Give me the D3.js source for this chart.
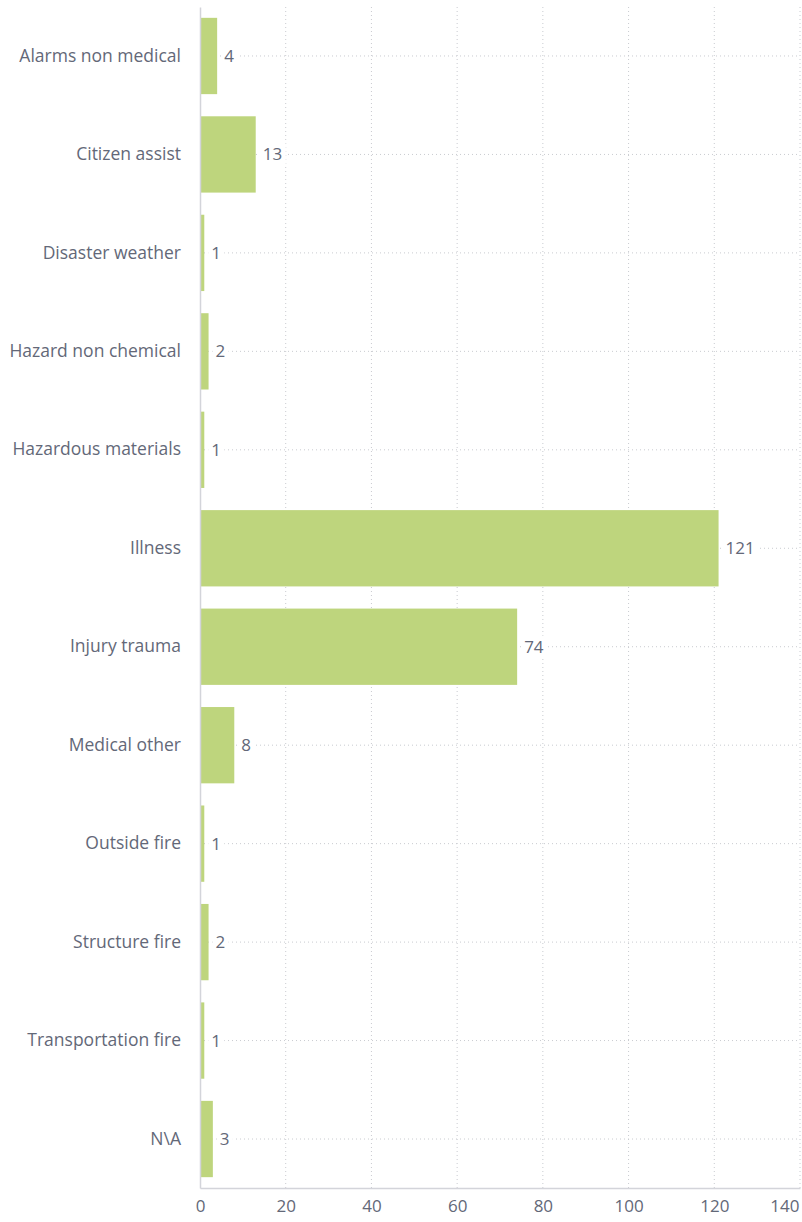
<!DOCTYPE html>
<html><head><meta charset="utf-8">
<script src="https://cdn.jsdelivr.net/npm/d3@7"></script>
<style>body{margin:0;background:#fff;}svg{display:block;font-family:"Open Sans",sans-serif;}</style>
</head><body>
<script>
const categories = ["Alarms non medical","Citizen assist","Disaster weather","Hazard non chemical","Hazardous materials","Illness","Injury trauma","Medical other","Outside fire","Structure fire","Transportation fire","N\\A"];
const values = [4,13,1,2,1,121,74,8,1,2,1,3];
const xTicks = [0,20,40,60,80,100,120,140];

const W = 802, H = 1222;
const svg = d3.select("body").append("svg").attr("width", W).attr("height", H);
const x = d3.scaleLinear().domain([0,140]).range([200,800]);
const y = d3.scaleBand().domain(categories).range([7,1188]).paddingInner(0.225).paddingOuter(0.11);
const textColor = "#636878";
const gridColor = "#c9cbd0";
const fs = 17;

// vertical grid
svg.append("g").selectAll("line").data(xTicks.slice(1)).join("line")
  .attr("x1", d=>x(d)).attr("x2", d=>x(d)).attr("y1", 7).attr("y2", 1188)
  .attr("stroke", gridColor).attr("stroke-width",1).attr("stroke-dasharray","1,3");

// horizontal dotted lines at category centres
svg.append("g").selectAll("line").data(categories).join("line")
  .attr("x1", 200).attr("x2", 800)
  .attr("y1", d=>y(d)+y.bandwidth()/2).attr("y2", d=>y(d)+y.bandwidth()/2)
  .attr("stroke", gridColor).attr("stroke-width",1).attr("stroke-dasharray","1,3");

// bars
svg.append("g").selectAll("rect").data(categories).join("rect")
  .attr("x", x(0)).attr("y", d=>y(d))
  .attr("width", (d,i)=>x(values[i])-x(0)).attr("height", y.bandwidth())
  .attr("fill", "#bed57d");

// value labels with white background
const vl = svg.append("g").selectAll("g").data(categories).join("g")
  .attr("transform", (d,i)=>`translate(${x(values[i])+7},${y(d)+y.bandwidth()/2})`);
vl.append("rect").attr("x",-3).attr("y",-11).attr("height",22)
  .attr("width",(d,i)=>String(values[i]).length*10+6).attr("fill","#fff");
vl.append("text").text((d,i)=>values[i]).attr("dy","0.35em")
  .attr("font-size",fs).attr("fill",textColor);

// y axis
const ya = svg.append("g").attr("transform","translate(200,0)")
  .call(d3.axisLeft(y).tickSize(0).tickPadding(19));
ya.select(".domain").attr("stroke","#d3d4da").attr("stroke-width",1.5);
ya.selectAll("text").attr("font-size",17.5).attr("fill",textColor).attr("font-family","Open Sans");

// x axis
const xa = svg.append("g").attr("transform","translate(0,1188)")
  .call(d3.axisBottom(x).tickValues(xTicks).tickSize(0).tickPadding(12));
xa.select(".domain").attr("stroke","#d3d4da").attr("stroke-width",1.5);
xa.selectAll("text").attr("font-size",fs).attr("fill",textColor).attr("font-family","Open Sans")
  .filter(d=>d===140).attr("text-anchor","end").attr("dx","-1");
</script>
</body></html>
